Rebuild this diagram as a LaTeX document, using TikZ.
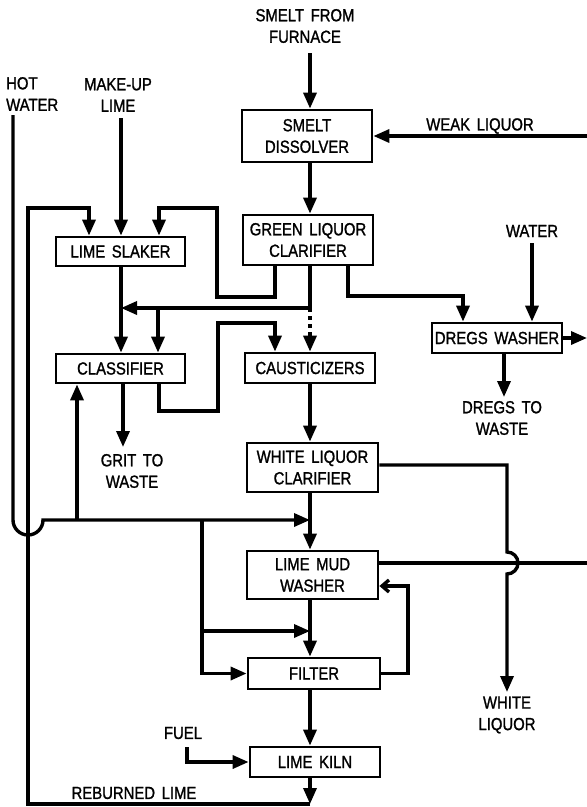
\documentclass[tikz,border=0pt]{standalone}
\usepackage{fontspec}
\setmainfont[FakeStretch=0.85, FakeBold=1.2, WordSpace=1.6]{Liberation Sans}
\usetikzlibrary{arrows.meta,calc}
\newcommand\dfont{\fontsize{17.5}{21.5}\selectfont}
\begin{document}
\begin{tikzpicture}[x=1pt,y=1pt,
  box/.style={draw, line width=2.8pt, inner sep=0pt, align=center, font=\dfont},
  lbl/.style={align=center, font=\dfont, inner sep=0pt},
  pipe/.style={line width=3.4pt},
  flow/.style={pipe, -{Triangle[length=16pt,width=13pt]}},
  openflow/.style={pipe, -{Straight Barb[length=7pt,width=12pt]}}]
\useasboundingbox (0,0) rectangle (587,-807);
\fill[white] (0,0) rectangle (587,-807);

% boxes
\node[box, minimum width=130pt, minimum height=52pt] (dis) at (307,-136) {SMELT\\DISSOLVER};
\node[box, minimum width=130pt, minimum height=50pt] (gl) at (308,-240) {GREEN LIQUOR\\CLARIFIER};
\node[box, minimum width=129pt, minimum height=29pt] (slk) at (120.5,-251.5) {LIME SLAKER};
\node[box, minimum width=130pt, minimum height=30pt] (dregs) at (497,-338) {DREGS WASHER};
\node[box, minimum width=129pt, minimum height=29pt] (cls) at (120.5,-368.5) {CLASSIFIER};
\node[box, minimum width=130pt, minimum height=30pt] (caus) at (310,-368) {CAUSTICIZERS};
\node[box, minimum width=131pt, minimum height=49pt] (wl) at (312.5,-467.5) {WHITE LIQUOR\\CLARIFIER};
\node[box, minimum width=131pt, minimum height=48pt] (lmw) at (312.5,-575) {LIME MUD\\WASHER};
\node[box, minimum width=132pt, minimum height=31pt] (filt) at (314,-673.5) {FILTER};
\node[box, minimum width=130pt, minimum height=30pt] (kiln) at (315,-762) {LIME KILN};

% labels
\node[lbl] (smeltl) at (305,-26) {SMELT FROM\\FURNACE};
\node[lbl, anchor=west, align=left] (hotl) at (6,-94) {HOT\\WATER};
\node[lbl] (mul) at (118,-95) {MAKE-UP\\LIME};
\node[lbl] (weakl) at (480,-126) {WEAK LIQUOR};
\node[lbl] (waterl) at (532,-231) {WATER};
\node[lbl] (dregsl) at (502,-418) {DREGS TO\\WASTE};
\node[lbl] (gritl) at (132,-471) {GRIT TO\\WASTE};
\node[lbl] (whitel) at (507,-715) {WHITE\\LIQUOR};
\node[lbl] (fuell) at (183,-733) {FUEL};
\node[lbl] (rbl) at (134,-793) {REBURNED LIME};

% named points
\coordinate (col) at (310,0);
\coordinate (scol) at (121,0);
\coordinate (fur) at (310,-53);
\coordinate (wkR) at (587,-136);
\coordinate (J1) at (310,-308);
\coordinate (J2) at (158,-308);
\coordinate (mu) at (121,-118);
\coordinate (rb1) at (310,-804);
\coordinate (rb2) at (28,-804);
\coordinate (rb3) at (28,-208);
\coordinate (rb4) at (89,-208);
\coordinate (hw1) at (13,-115);
\coordinate (hw2) at (13,-520);
\coordinate (hw4) at (310,-520);
\coordinate (hcls) at (77,-520);
\coordinate (hb) at (202,-520);
\coordinate (hc) at (202,-631);
\coordinate (hcE) at (310,-631);
\coordinate (fr1) at (408,-673.5);
\coordinate (fr2) at (408,-586);
\coordinate (lmR) at (587,-563);
\coordinate (wl1) at (507,-465);
\coordinate (wl2) at (507,-552);
\coordinate (wl3) at (507,-692);
\coordinate (cl1) at (159,-411);
\coordinate (cl2) at (218,-411);
\coordinate (cl3) at (218,-323);
\coordinate (cl4) at (275,-323);
\coordinate (gl1) at (275,-297);
\coordinate (gl2) at (217,-297);
\coordinate (gl3) at (217,-208);
\coordinate (gl4) at (159,-208);
\coordinate (gr1) at (348,-296);
\coordinate (gr2) at (463,-296);
\coordinate (wat) at (532,-243);
\coordinate (drR) at (587,-338);
\coordinate (drW) at (504,-397);
\coordinate (grit) at (123,-447);
\coordinate (fu1) at (187,-747);
\coordinate (fu2) at (187,-762);

% main column
\draw[flow] (fur) -- (col |- dis.north);
\draw[flow] (wkR) -- (dis.east);
\draw[gray!45, line width=1pt] (wkR) -- ++(0,-81);
\draw[flow] (col |- dis.south) -- (col |- gl.north);
\draw[flow] (col |- gl.south) -- (J1) -- (scol |- J1);
\draw[flow] (J2) -- (J2 |- cls.north);
\draw[flow, dash pattern=on 4pt off 4pt] (J1) -- (col |- caus.north);
\draw[flow] (col |- caus.south) -- (col |- wl.north);
\draw[flow] (col |- wl.south) -- (col |- lmw.north);
\draw[flow] (col |- lmw.south) -- (col |- filt.north);
\draw[flow] (col |- filt.south) -- (col |- kiln.north);
\draw[flow] (col |- kiln.south) -- (rb1);

% reburned lime loop
\draw[flow] (rb1) -- (rb2) -- (rb3) -- (rb4) -- (rb4 |- slk.north);

% slaker and classifier
\draw[flow] (mu) -- (scol |- slk.north);
\draw[flow] (scol |- slk.south) -- (scol |- cls.north);
\draw[flow] (grit |- cls.south) -- (grit);
\draw[flow] (cl1 |- cls.south) -- (cl1) -- (cl2) -- (cl3) -- (cl4) -- (cl4 |- caus.north);

% green liquor clarifier outputs
\draw[flow] (gl1 |- gl.south) -- (gl1) -- (gl2) -- (gl3) -- (gl4) -- (gl4 |- slk.north);
\draw[flow] (gr1 |- gl.south) -- (gr1) -- (gr2) -- (gr2 |- dregs.north);

% dregs washer
\draw[flow] (wat) -- (wat |- dregs.north);
\draw[flow] (dregs.east) -- (drR);
\draw[flow] (drW |- dregs.south) -- (drW);

% hot water
\draw[flow] (hw1) -- (hw2) arc[start angle=180, end angle=360, radius=15] -- (hw4);
\draw[flow] (hcls) -- (hcls |- cls.south);
\draw[flow] (hb) -- (hb |- filt.west) -- (filt.west);
\draw[flow] (hc) -- (hcE);

% filter recycle
\draw[openflow] (filt.east) -- (fr1) -- (fr2) -- (lmw.east |- fr2);

% lime mud washer out
\draw[pipe] (lmw.east |- lmR) -- (lmR);

% white liquor
\draw[flow] (wl.east |- wl1) -- (wl1) -- (wl2) arc[start angle=90, end angle=-90, radius=11] -- (wl3);

% fuel
\draw[flow] (fu1) -- (fu2) -- (kiln.west);
\end{tikzpicture}
\end{document}
